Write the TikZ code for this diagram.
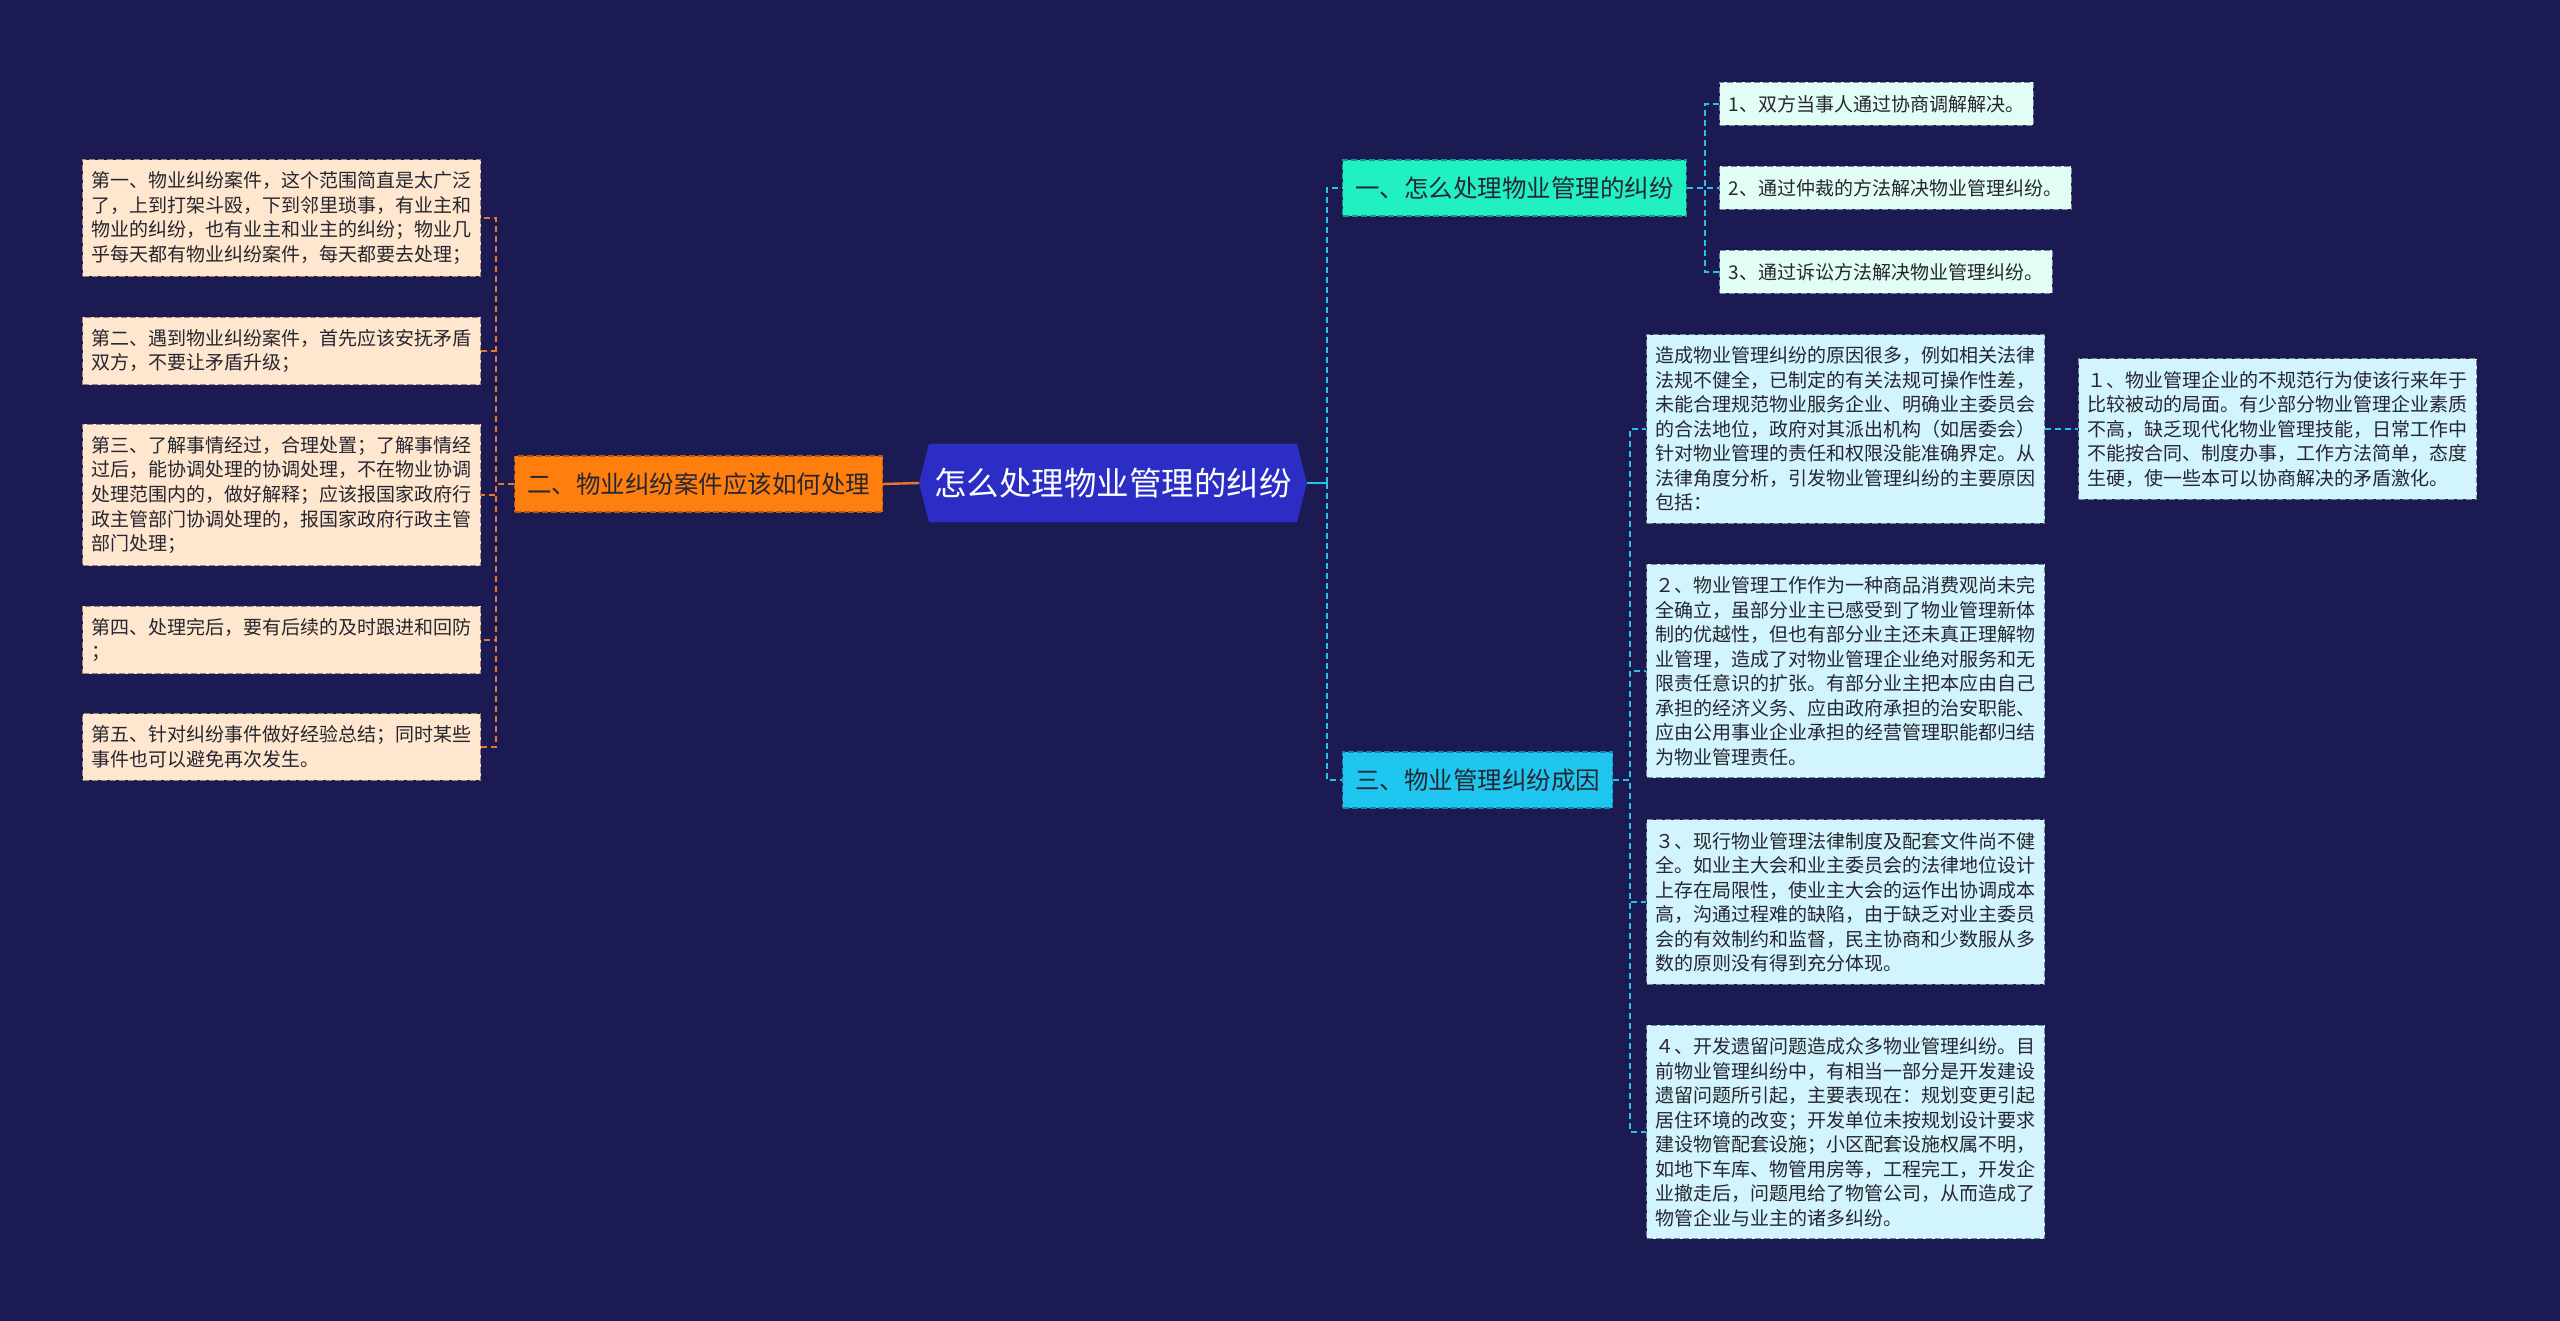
\documentclass[tikz,border=0pt]{standalone}
\usepackage{fontspec}
\newfontfamily\cjk{Noto Sans CJK SC}
\usetikzlibrary{backgrounds}
\definecolor{bgnavy}{HTML}{1B1A52}
\definecolor{rootblue}{HTML}{2B2DC4}
\definecolor{orangec}{HTML}{FF7F0E}
\definecolor{orangedge}{HTML}{B55A10}
\definecolor{orangeline}{HTML}{E8772A}
\definecolor{peach}{HTML}{FFE6CF}
\definecolor{peachedge}{HTML}{9C8672}
\definecolor{mintc}{HTML}{20F0C2}
\definecolor{mintedge}{HTML}{139C82}
\definecolor{mintsoft}{HTML}{E2FDF4}
\definecolor{skyc}{HTML}{1FC6F0}
\definecolor{skyedge}{HTML}{1388AA}
\definecolor{skysoft}{HTML}{D2F4FC}
\definecolor{cyanline}{HTML}{29C3E6}
\definecolor{edgec}{HTML}{6F8A96}
\definecolor{inkc}{HTML}{262630}

\begin{document}
\begin{tikzpicture}[x=0.5pt, y=-0.5pt,
  leafbox/.style={draw, dash pattern=on 3pt off 1.5pt, line width=0.5pt, text=inkc,
    font=\cjk\fontsize{9.5pt}{12.25pt}\selectfont, align=left, inner xsep=4.5pt, inner ysep=6pt, anchor=west},
  leftleaf/.style={leafbox, fill=peach, draw=peachedge, text width=190pt},
  rightleaf/.style={leafbox, fill=skysoft, draw=edgec, text width=190pt},
  tipleaf/.style={leafbox, fill=mintsoft, draw=edgec, minimum height=21.5pt},
  branch/.style={draw, dash pattern=on 3pt off 1.5pt, line width=0.6pt, text=inkc,
    font=\cjk\fontsize{12.25pt}{14pt}\selectfont, inner xsep=6.25pt, minimum height=28pt, anchor=west},
  orangelink/.style={orangeline, line width=1pt, dash pattern=on 3pt off 2pt},
  cyanlink/.style={cyanline, line width=1pt, dash pattern=on 3pt off 2pt}]
  \path[use as bounding box] (0,0) rectangle (2560,1321);

  \node[anchor=west, font=\cjk\fontsize{16.25pt}{18pt}\selectfont, text=white,
    inner xsep=7.4pt, minimum height=39pt] (root) at (919,483) {怎么处理物业管理的纠纷};

  \node[branch, fill=orangec, draw=orangedge] (lb) at (514,484) {二、物业纠纷案件应该如何处理};
  \node[branch, fill=mintc, draw=mintedge] (b1) at (1342,188) {一、怎么处理物业管理的纠纷};
  \node[branch, fill=skyc, draw=skyedge] (b3) at (1342,780) {三、物业管理纠纷成因};

  \node[leftleaf] (a1) at (82,218) {第一、物业纠纷案件，这个范围简直是太广泛\\了，上到打架斗殴，下到邻里琐事，有业主和\\物业的纠纷，也有业主和业主的纠纷；物业几\\乎每天都有物业纠纷案件，每天都要去处理；};
  \node[leftleaf] (a2) at (82,351) {第二、遇到物业纠纷案件，首先应该安抚矛盾\\双方，不要让矛盾升级；};
  \node[leftleaf] (a3) at (82,495) {第三、了解事情经过，合理处置；了解事情经\\过后，能协调处理的协调处理，不在物业协调\\处理范围内的，做好解释；应该报国家政府行\\政主管部门协调处理的，报国家政府行政主管\\部门处理；};
  \node[leftleaf] (a4) at (82,640) {第四、处理完后，要有后续的及时跟进和回防\\；};
  \node[leftleaf] (a5) at (82,747) {第五、针对纠纷事件做好经验总结；同时某些\\事件也可以避免再次发生。};

  \node[tipleaf] (t1) at (1719,104) {1、双方当事人通过协商调解解决。};
  \node[tipleaf] (t2) at (1719,188) {2、通过仲裁的方法解决物业管理纠纷。};
  \node[tipleaf] (t3) at (1719,272) {3、通过诉讼方法解决物业管理纠纷。};

  \node[rightleaf] (r1) at (1646,429) {造成物业管理纠纷的原因很多，例如相关法律\\法规不健全，已制定的有关法规可操作性差，\\未能合理规范物业服务企业、明确业主委员会\\的合法地位，政府对其派出机构（如居委会）\\针对物业管理的责任和权限没能准确界定。从\\法律角度分析，引发物业管理纠纷的主要原因\\包括：};
  \node[rightleaf] (r2) at (1646,671) {２、物业管理工作作为一种商品消费观尚未完\\全确立，虽部分业主已感受到了物业管理新体\\制的优越性，但也有部分业主还未真正理解物\\业管理，造成了对物业管理企业绝对服务和无\\限责任意识的扩张。有部分业主把本应由自己\\承担的经济义务、应由政府承担的治安职能、\\应由公用事业企业承担的经营管理职能都归结\\为物业管理责任。};
  \node[rightleaf] (r3) at (1646,902) {３、现行物业管理法律制度及配套文件尚不健\\全。如业主大会和业主委员会的法律地位设计\\上存在局限性，使业主大会的运作出协调成本\\高，沟通过程难的缺陷，由于缺乏对业主委员\\会的有效制约和监督，民主协商和少数服从多\\数的原则没有得到充分体现。};
  \node[rightleaf] (r4) at (1646,1132) {４、开发遗留问题造成众多物业管理纠纷。目\\前物业管理纠纷中，有相当一部分是开发建设\\遗留问题所引起，主要表现在：规划变更引起\\居住环境的改变；开发单位未按规划设计要求\\建设物管配套设施；小区配套设施权属不明，\\如地下车库、物管用房等，工程完工，开发企\\业撤走后，问题甩给了物管公司，从而造成了\\物管企业与业主的诸多纠纷。};
  \node[rightleaf] (c1) at (2078,429) {１、物业管理企业的不规范行为使该行来年于\\比较被动的局面。有少部分物业管理企业素质\\不高，缺乏现代化物业管理技能，日常工作中\\不能按合同、制度办事，工作方法简单，态度\\生硬，使一些本可以协商解决的矛盾激化。};

  \draw[orangeline, line width=1.2pt] (root.west) -- (lb.east);
  \foreach \n in {a1,a2,a3,a4,a5}
    \draw[orangelink] (lb.west) -- ++(-9pt,0) |- (\n.east);
  \draw[cyanline, line width=1.2pt] (root.east) -- ++(10pt,0) coordinate (rj);
  \foreach \n in {b1,b3}
    \draw[cyanlink] (rj) |- (\n.west);
  \foreach \n in {t1,t2,t3}
    \draw[cyanlink] (b1.east) -- ++(9pt,0) |- (\n.west);
  \foreach \n in {r1,r2,r3,r4}
    \draw[cyanlink] (b3.east) -- ++(8.5pt,0) |- (\n.west);
  \draw[cyanlink] (r1.east) -- (r1.east -| c1.west);

  \begin{scope}[on background layer]
    \fill[bgnavy] (0,0) rectangle (2560,1321);
    \fill[rootblue] ([xshift=5pt]root.north west) -- ([xshift=-5pt]root.north east) -- (root.east)
      -- ([xshift=-5pt]root.south east) -- ([xshift=5pt]root.south west) -- (root.west) -- cycle;
  \end{scope}
\end{tikzpicture}
\end{document}
